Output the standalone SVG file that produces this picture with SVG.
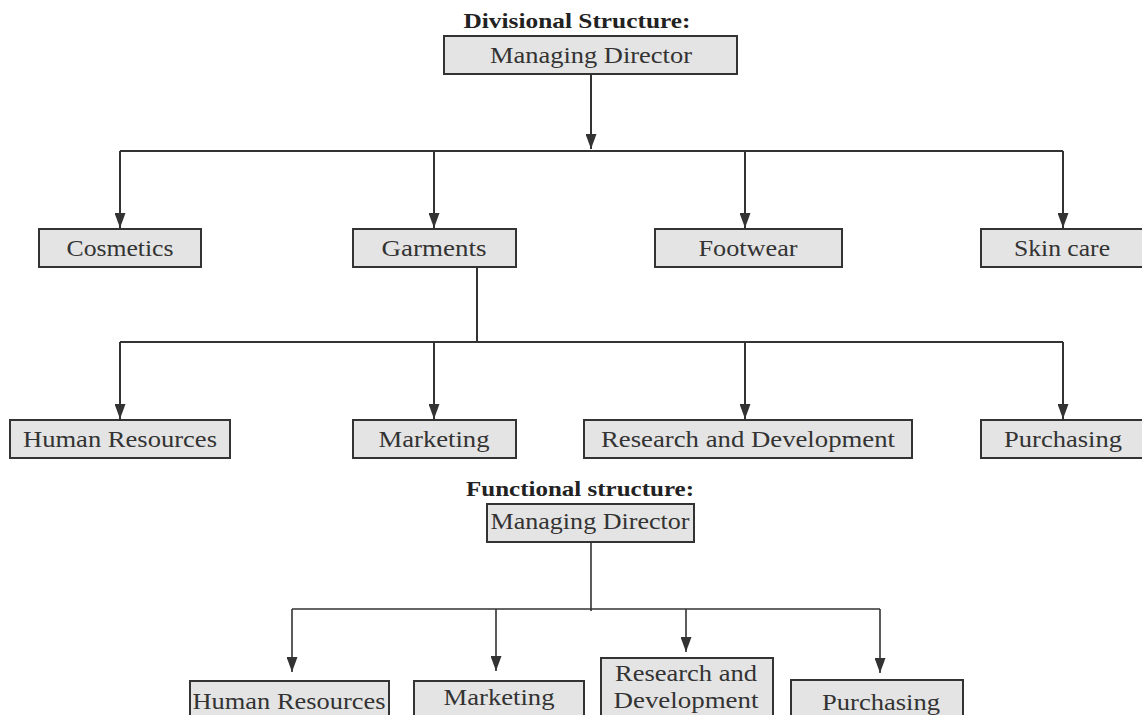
<svg xmlns="http://www.w3.org/2000/svg" width="1142" height="715" viewBox="0 0 1142 715">
<style>
  .box{fill:#e4e4e4;stroke:#333;stroke-width:2}
  .t{font-family:"Liberation Serif","Times New Roman",serif;font-size:24px;fill:#333;text-anchor:middle}
  .h{font-family:"Liberation Serif","Times New Roman",serif;font-size:21px;font-weight:bold;fill:#222;text-anchor:middle}
  .c{fill:none;stroke:#333;stroke-width:2}
  .c2{fill:none;stroke:#333;stroke-width:1.6}
</style>
<defs>
  <marker id="arr" viewBox="0 0 15 11" markerWidth="15" markerHeight="11" refX="15" refY="5.5" orient="auto" markerUnits="userSpaceOnUse">
    <path d="M0,0 L15,5.5 L0,11 z" fill="#333"/>
  </marker>
</defs>
<rect width="1142" height="715" fill="#fff"/>
<text class="h" x="577" y="28" textLength="227" lengthAdjust="spacingAndGlyphs">Divisional Structure:</text>
<g id="connectors">
  <path class="c" d="M591,74 V149" marker-end="url(#arr)"/>
  <path class="c" d="M120,151 H1063"/>
  <path class="c" d="M120,151 V228" marker-end="url(#arr)"/>
  <path class="c" d="M434,151 V228" marker-end="url(#arr)"/>
  <path class="c" d="M745,151 V228" marker-end="url(#arr)"/>
  <path class="c" d="M1063,151 V228" marker-end="url(#arr)"/>
  <path class="c" d="M477,267 V342"/>
  <path class="c" d="M120,342 H1063"/>
  <path class="c" d="M120,342 V419" marker-end="url(#arr)"/>
  <path class="c" d="M434,342 V419" marker-end="url(#arr)"/>
  <path class="c" d="M745,342 V419" marker-end="url(#arr)"/>
  <path class="c" d="M1063,342 V419" marker-end="url(#arr)"/>
  <path class="c2" d="M591,542 V611"/>
  <path class="c2" d="M292,609 H880"/>
  <path class="c2" d="M292,609 V672" marker-end="url(#arr)"/>
  <path class="c2" d="M496,609 V671" marker-end="url(#arr)"/>
  <path class="c2" d="M686,609 V652" marker-end="url(#arr)"/>
  <path class="c2" d="M880,609 V673" marker-end="url(#arr)"/>
</g>
<g id="md1"><rect class="box" x="444" y="36" width="293" height="38"/><text class="t" x="591" y="63" textLength="202" lengthAdjust="spacingAndGlyphs">Managing Director</text></g>
<g id="cosmetics"><rect class="box" x="39" y="229" width="162" height="38"/><text class="t" x="120" y="256" textLength="107" lengthAdjust="spacingAndGlyphs">Cosmetics</text></g>
<g id="garments"><rect class="box" x="353" y="229" width="163" height="38"/><text class="t" x="434" y="256" textLength="105" lengthAdjust="spacingAndGlyphs">Garments</text></g>
<g id="footwear"><rect class="box" x="655" y="229" width="187" height="38"/><text class="t" x="748" y="256" textLength="99" lengthAdjust="spacingAndGlyphs">Footwear</text></g>
<g id="skincare"><rect class="box" x="981" y="229" width="166" height="38"/><text class="t" x="1062" y="256" textLength="96" lengthAdjust="spacingAndGlyphs">Skin care</text></g>
<g id="hr1"><rect class="box" x="10" y="420" width="220" height="38"/><text class="t" x="120" y="447" textLength="194" lengthAdjust="spacingAndGlyphs">Human Resources</text></g>
<g id="mkt1"><rect class="box" x="353" y="420" width="163" height="38"/><text class="t" x="434" y="447" textLength="111" lengthAdjust="spacingAndGlyphs">Marketing</text></g>
<g id="rd1"><rect class="box" x="584" y="420" width="328" height="38"/><text class="t" x="748" y="447" textLength="294" lengthAdjust="spacingAndGlyphs">Research and Development</text></g>
<g id="pur1"><rect class="box" x="981" y="420" width="166" height="38"/><text class="t" x="1063" y="447" textLength="118" lengthAdjust="spacingAndGlyphs">Purchasing</text></g>
<text class="h" x="580" y="496" textLength="228" lengthAdjust="spacingAndGlyphs">Functional structure:</text>
<g id="md2"><rect class="box" x="487" y="504" width="207" height="38" stroke-width="1.6"/><text class="t" x="590" y="529" textLength="199" lengthAdjust="spacingAndGlyphs">Managing Director</text></g>
<g id="hr2"><rect class="box" x="190" y="681" width="199" height="40" stroke-width="1.6"/><text class="t" x="289" y="709" textLength="193" lengthAdjust="spacingAndGlyphs">Human Resources</text></g>
<g id="mkt2"><rect class="box" x="414" y="681" width="170" height="40" stroke-width="1.6"/><text class="t" x="499" y="705" textLength="111" lengthAdjust="spacingAndGlyphs">Marketing</text></g>
<g id="rd2"><rect class="box" x="601" y="658" width="172" height="62" stroke-width="1.6"/><text class="t" x="686" y="681" textLength="142" lengthAdjust="spacingAndGlyphs">Research and</text><text class="t" x="686" y="708" textLength="145" lengthAdjust="spacingAndGlyphs">Development</text></g>
<g id="pur2"><rect class="box" x="791" y="680" width="172" height="40" stroke-width="1.6"/><text class="t" x="881" y="710" textLength="118" lengthAdjust="spacingAndGlyphs">Purchasing</text></g>
</svg>
